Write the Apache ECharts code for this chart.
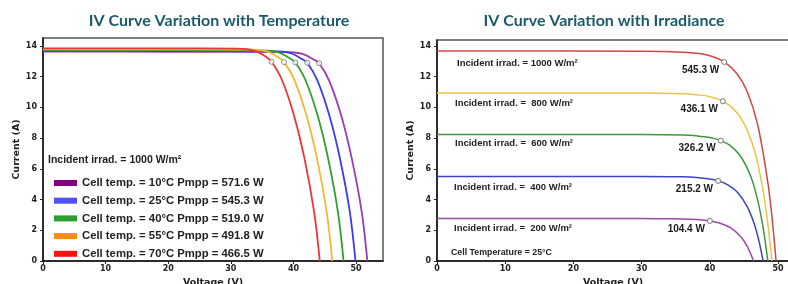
<!DOCTYPE html>
<html lang="en">
<head>
<meta charset="utf-8">
<title>IV Curve Variation</title>
<script src="https://cdn.jsdelivr.net/npm/echarts@6/dist/echarts.min.js"></script>
<style>
  html, body { margin: 0; padding: 0; background: #fff; }
  #main { width: 788px; height: 284px; }
</style>
</head>
<body>
<div id="main"></div>
<script>
// ---- left chart: temperature ----
var tempNames = [
  'Cell temp. = 10°C Pmpp = 571.6 W',
  'Cell temp. = 25°C Pmpp = 545.3 W',
  'Cell temp. = 40°C Pmpp = 519.0 W',
  'Cell temp. = 55°C Pmpp = 491.8 W',
  'Cell temp. = 70°C Pmpp = 466.5 W'
];
var tempCurve10 = [[0,13.63],[20,13.625],[38.6,13.61],[41.3,13.5],[43.3,13.1],[44.1,12.88],[45.7,11.75],[47.6,9.5],[49.3,6.7],[50.9,3.2],[51.8,0]];
var tempCurve25 = [[0,13.68],[20,13.675],[36.7,13.66],[39.4,13.55],[41.4,13.14],[42.2,12.91],[43.8,11.78],[45.7,9.52],[47.4,6.72],[49.0,3.2],[49.9,0]];
var tempCurve40 = [[0,13.73],[20,13.725],[34.8,13.71],[37.5,13.6],[39.5,13.18],[40.3,12.93],[41.9,11.8],[43.8,9.55],[45.5,6.75],[47.1,3.2],[48.0,0]];
var tempCurve55 = [[0,13.79],[20,13.785],[33,13.77],[35.7,13.65],[37.7,13.23],[38.5,12.95],[40.1,11.83],[42,9.58],[43.7,6.78],[45.3,3.2],[46.2,0]];
var tempCurve70 = [[0,13.85],[20,13.845],[31,13.83],[33.7,13.7],[35.7,13.27],[36.5,12.97],[38.1,11.85],[40,9.6],[41.7,6.8],[43.3,3.2],[44.2,0]];
var tempMpp = [[44.1,12.88],[42.2,12.91],[40.3,12.93],[38.5,12.95],[36.5,12.97]];
var tempNote = 'Incident irrad. = 1000 W/m²';

// ---- right chart: irradiance ----
var irrCurve1000 = [[0,13.67],[30,13.66],[36,13.6],[38,13.53],[40,13.36],[42.1,12.96],[44,12.18],[45.5,11.0],[47,8.89],[48.5,5.1],[49.2,2.45],[49.7,0]];
var irrCurve800 = [[0,10.94],[30,10.94],[36,10.89],[38,10.83],[40,10.7],[41.9,10.4],[43.5,9.89],[45,8.96],[46.5,7.24],[47.5,5.32],[48.3,3.08],[49.1,0]];
var irrCurve600 = [[0,8.23],[30,8.23],[36,8.2],[38,8.15],[40,8.04],[41.6,7.84],[43,7.51],[44.5,6.82],[46,5.5],[47,3.98],[47.8,2.17],[48.5,0]];
var irrCurve400 = [[0,5.51],[30,5.51],[36,5.48],[38,5.44],[40,5.34],[41.2,5.22],[42.5,4.99],[44,4.5],[45.5,3.53],[46.5,2.42],[47.2,1.29],[47.8,0]];
var irrCurve200 = [[0,2.76],[30,2.76],[34,2.75],[36,2.74],[38,2.7],[40,2.61],[41.5,2.46],[43,2.17],[44.5,1.6],[45.5,0.93],[46.4,0]];
var irrMpp = [[42.1,12.96],[41.9,10.4],[41.6,7.84],[41.2,5.22],[40.0,2.61]];
var irrPowerLabels = ['545.3 W', '436.1 W', '326.2 W', '215.2 W', '104.4 W'];
var irrNotes = [
  'Incident irrad. = 1000 W/m²',
  'Incident irrad. =  800 W/m²',
  'Incident irrad. =  600 W/m²',
  'Incident irrad. =  400 W/m²',
  'Incident irrad. =  200 W/m²'
];
var irrFooter = 'Cell Temperature = 25°C';

var tempCurves = [tempCurve10, tempCurve25, tempCurve40, tempCurve55, tempCurve70];
var tempColors = ['#9a3bb0', '#3a3cf5', '#2f9f2f', '#f5b733', '#ee3535'];
var tempLegendColors = ['#800080', '#5050ff', '#2ca02c', '#ff8a1a', '#ff1010'];
var irrCurves = [irrCurve1000, irrCurve800, irrCurve600, irrCurve400, irrCurve200];
var irrColors = ['#d64545', '#f0c24a', '#3a9a3a', '#3c44c4', '#9a4aa8'];

// pixel layout of annotations
var irrNotePos = [[457, 63], [455, 103], [455, 143], [454, 187], [454, 228]];

var chart = echarts.init(document.getElementById('main'));

var tickFont = { fontFamily: 'DejaVu Sans', fontWeight: 'bold', fontSize: 8, color: '#222' };
var nameFont = { fontFamily: 'DejaVu Sans', fontWeight: 'bold', fontSize: 9.5, color: '#222' };

function xAxis(idx, max) {
  return {
    type: 'value', gridIndex: idx, min: 0, max: max, interval: 10,
    name: 'Voltage (V)', nameLocation: 'middle', nameGap: 13, nameTextStyle: nameFont,
    axisLine: { show: true, lineStyle: { color: '#111', width: 1.5 } },
    axisTick: { show: true, length: 3, lineStyle: { color: '#222' } },
    axisLabel: Object.assign({ margin: 4, showMaxLabel: false }, tickFont),
    splitLine: { show: false }
  };
}
function yAxis(idx, max) {
  return {
    type: 'value', gridIndex: idx, min: 0, max: max, interval: 2,
    name: 'Current (A)', nameLocation: 'middle', nameGap: 18, nameRotate: 90, nameTextStyle: nameFont,
    axisLine: { show: true, lineStyle: { color: '#111', width: 1.5 } },
    axisTick: { show: true, length: 3, lineStyle: { color: '#222' } },
    axisLabel: Object.assign({ margin: 6, showMaxLabel: false }, tickFont),
    splitLine: { show: false }
  };
}

var series = [];
tempCurves.forEach(function (c, i) {
  series.push({
    name: tempNames[i], type: 'line', xAxisIndex: 0, yAxisIndex: 0,
    data: c, showSymbol: false, smooth: 0.35,
    lineStyle: { color: tempColors[i], width: 1.8 },
    itemStyle: { color: tempColors[i] }, silent: true, z: 2
  });
});
series.push({
  type: 'scatter', xAxisIndex: 0, yAxisIndex: 0, data: tempMpp,
  symbol: 'circle', symbolSize: 5,
  itemStyle: { color: '#fff', borderColor: '#777', borderWidth: 1 }, z: 5
});
irrCurves.forEach(function (c, i) {
  series.push({
    type: 'line', xAxisIndex: 1, yAxisIndex: 1,
    data: c, showSymbol: false, smooth: 0.35,
    lineStyle: { color: irrColors[i], width: 1.5 }, silent: true, z: 2
  });
});
series.push({
  type: 'scatter', xAxisIndex: 1, yAxisIndex: 1,
  data: irrMpp.map(function (p, i) { return { value: p, name: irrPowerLabels[i] }; }),
  symbol: 'circle', symbolSize: 5,
  itemStyle: { color: '#fff', borderColor: '#777', borderWidth: 1, opacity: 1 },
  label: {
    show: true, position: 'left', distance: 2, offset: [0, 8], formatter: '{b}',
    fontFamily: 'Liberation Sans', fontWeight: 'bold', fontSize: 10, color: '#1a1a1a',
    textBorderWidth: 0
  },
  z: 5
});

var graphics = [{
  type: 'text', x: 48, y: 160,
  style: { text: tempNote, font: 'bold 10.5px "Liberation Sans"', fill: '#222', verticalAlign: 'middle' }
}];
irrNotes.forEach(function (t, i) {
  graphics.push({
    type: 'text', x: irrNotePos[i][0], y: irrNotePos[i][1],
    style: { text: t, font: 'bold 9.5px "Liberation Sans"', fill: '#222', verticalAlign: 'middle' }
  });
});
graphics.push({
  type: 'text', x: 451, y: 253,
  style: { text: irrFooter, font: 'bold 8.8px "Liberation Sans"', fill: '#222', verticalAlign: 'middle' }
});

chart.setOption({
  animation: false,
  backgroundColor: '#fff',
  title: [
    { text: 'IV Curve Variation with Temperature', left: 214, top: 8, textAlign: 'center',
      textStyle: { color: '#1a5a6b', fontSize: 16, fontWeight: 'bold', fontFamily: 'Lato' } },
    { text: 'IV Curve Variation with Irradiance', left: 599, top: 8, textAlign: 'center',
      textStyle: { color: '#1a5a6b', fontSize: 16, fontWeight: 'bold', fontFamily: 'Lato' } }
  ],
  grid: [
    { left: 43, top: 38, width: 340, height: 223, outerBoundsMode: 'none', containLabel: false,
      show: true, borderColor: '#555', borderWidth: 1.5, backgroundColor: 'transparent' },
    { left: 437, top: 40, width: 352, height: 221, outerBoundsMode: 'none', containLabel: false,
      show: true, borderColor: '#555', borderWidth: 1.5, backgroundColor: 'transparent' }
  ],
  xAxis: [xAxis(0, 54.3), xAxis(1, 51.6)],
  yAxis: [yAxis(0, 14.52), yAxis(1, 14.39)],
  legend: {
    orient: 'vertical', left: 49, top: 171,
    icon: 'rect', itemWidth: 23, itemHeight: 6, itemGap: 3.7,
    selectedMode: false,
    textStyle: { fontFamily: 'Liberation Sans', fontWeight: 'bold', fontSize: 11.3, color: '#222', lineHeight: 14 },
    data: tempNames.map(function (n, i) { return { name: n, itemStyle: { color: tempLegendColors[i] } }; })
  },
  graphic: graphics,
  series: series
});
window.onresize = chart.resize;
</script>
</body>
</html>
